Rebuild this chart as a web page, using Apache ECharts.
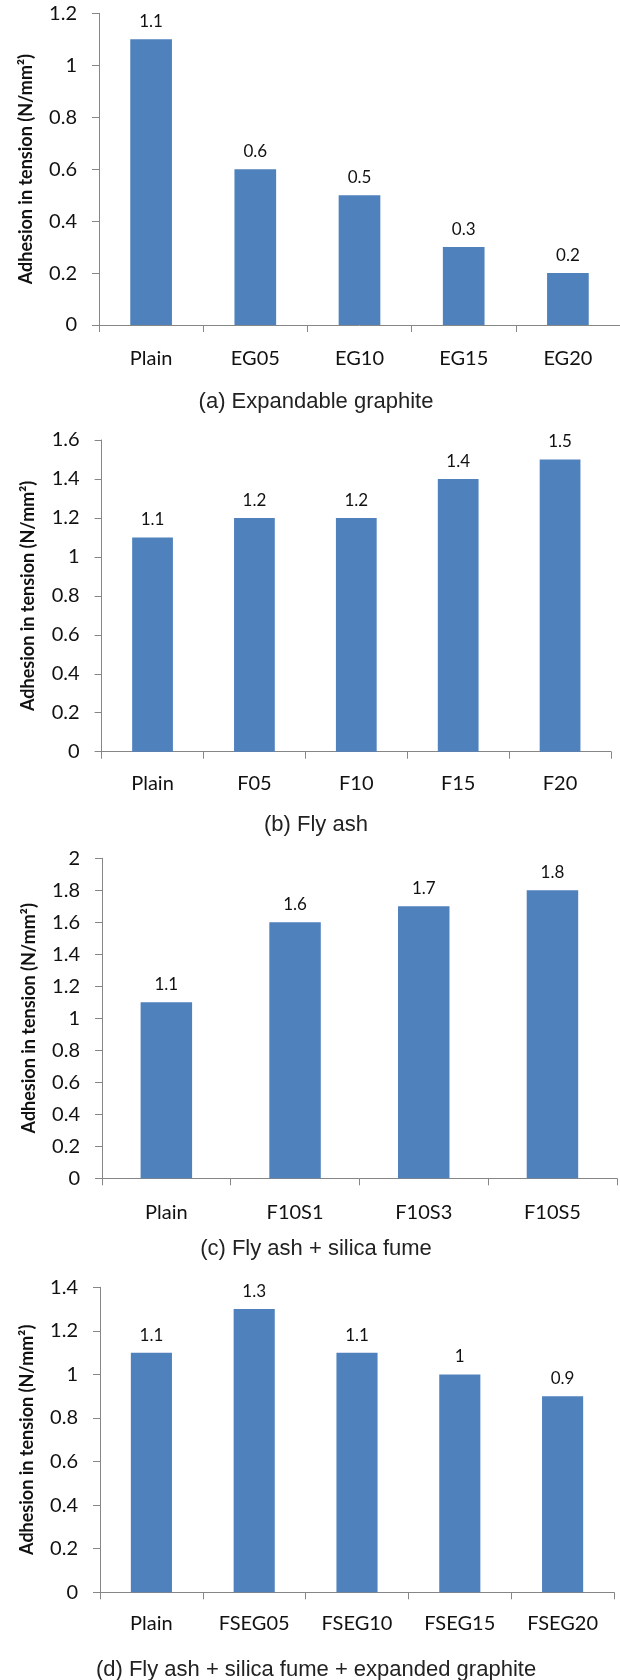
<!DOCTYPE html>
<html>
<head>
<meta charset="utf-8">
<script src="https://cdn.jsdelivr.net/npm/echarts@6/dist/echarts.min.js"></script>
<style>
html,body{margin:0;padding:0;background:#fff;}
#chart{width:620px;height:1680px;}
</style>
</head>
<body>
<div id="chart"></div>
<script>
// ---- data ----
const catsA = ['Plain', 'EG05', 'EG10', 'EG15', 'EG20'];
const valsA = [1.1, 0.6, 0.5, 0.3, 0.2];
const catsB = ['Plain', 'F05', 'F10', 'F15', 'F20'];
const valsB = [1.1, 1.2, 1.2, 1.4, 1.5];
const catsC = ['Plain', 'F10S1', 'F10S3', 'F10S5'];
const valsC = [1.1, 1.6, 1.7, 1.8];
const catsD = ['Plain', 'FSEG05', 'FSEG10', 'FSEG15', 'FSEG20'];
const valsD = [1.1, 1.3, 1.1, 1.0, 0.9];
const yMax = [1.2, 1.6, 2, 1.4];
const yInterval = 0.2;
const yName = 'Adhesion in tension (N/mm²)';
const captions = [
  '(a) Expandable graphite',
  '(b) Fly ash',
  '(c) Fly ash + silica fume',
  '(d) Fly ash + silica fume + expanded graphite'
];

// ---- layout ----
const grids = [
  {left: 99,  top: 13.3,  width: 521, height: 311.7},
  {left: 101.6, top: 440, width: 509.4, height: 311.7},
  {left: 102, top: 858.3, width: 514.8, height: 320},
  {left: 100, top: 1287.3, width: 514, height: 305}
];
const captionY = [401.7, 825, 1249, 1670];
const xLabelMargin = [24, 22, 24, 21];

const axisColor = '#868686';
const barColor = '#4F81BD';
const textColor = '#111';
const mainFont = 'Lato';

const allCats = [catsA, catsB, catsC, catsD];
const allVals = [valsA, valsB, valsC, valsD];

const option = {
  animation: false,
  backgroundColor: '#fff',
  grid: grids.map(g => Object.assign({containLabel: false}, g)),
  xAxis: allCats.map((c, i) => ({
    type: 'category',
    gridIndex: i,
    data: c,
    boundaryGap: true,
    axisLine: {show: true, lineStyle: {color: axisColor, width: 1}},
    axisTick: {show: true, length: 7, inside: false, alignWithLabel: false, lineStyle: {color: axisColor}},
    axisLabel: {color: textColor, fontFamily: mainFont, fontSize: 20, margin: xLabelMargin[i]},
    splitLine: {show: false}
  })),
  yAxis: yMax.map((m, i) => ({
    type: 'value',
    gridIndex: i,
    min: 0,
    max: m,
    interval: yInterval,
    name: yName,
    nameLocation: 'middle',
    nameGap: 64,
    nameTextStyle: {color: textColor, fontFamily: mainFont, fontWeight: 'bold', fontSize: 18},
    axisLine: {show: true, lineStyle: {color: axisColor, width: 1}},
    axisTick: {show: true, length: 7, lineStyle: {color: axisColor}},
    axisLabel: {color: textColor, fontFamily: mainFont, fontSize: 20, margin: 22},
    splitLine: {show: false}
  })),
  series: allVals.map((v, i) => ({
    type: 'bar',
    xAxisIndex: i,
    yAxisIndex: i,
    data: v,
    barWidth: '40%',
    itemStyle: {color: barColor},
    label: {
      show: true,
      position: 'top',
      distance: 9,
      color: textColor,
      fontFamily: mainFont,
      fontSize: 17
    }
  })),
  graphic: captions.map((t, i) => ({
    type: 'text',
    x: 316,
    y: captionY[i],
    style: {
      text: t,
      fill: '#222',
      fontFamily: "'Liberation Sans Narrow', 'Arial Narrow', 'Liberation Sans', sans-serif",
      fontSize: 22,
      align: 'center',
      verticalAlign: 'middle'
    }
  }))
};

const chart = echarts.init(document.getElementById('chart'), null, {renderer: 'canvas'});
chart.setOption(option);
</script>
</body>
</html>
